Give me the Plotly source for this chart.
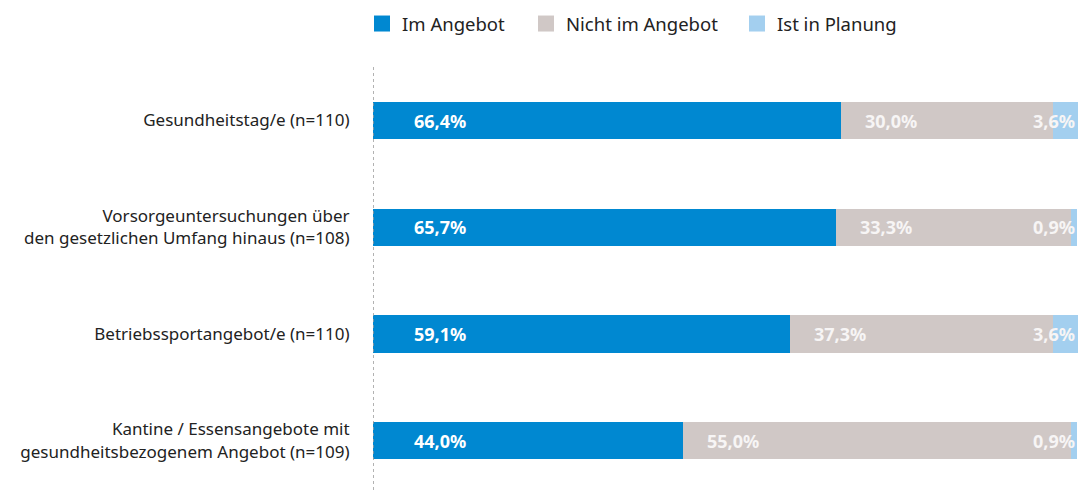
import plotly.graph_objects as go

categories = [
    "Gesundheitstag/e (n=110)",
    "Vorsorgeuntersuchungen über<br>den gesetzlichen Umfang hinaus (n=108)",
    "Betriebssportangebot/e (n=110)",
    "Kantine / Essensangebote mit<br>gesundheitsbezogenem Angebot (n=109)",
]
series_names = ["Im Angebot", "Nicht im Angebot", "Ist in Planung"]
im_angebot = [66.4, 65.7, 59.1, 44.0]
nicht_im_angebot = [30.0, 33.3, 37.3, 55.0]
in_planung = [3.6, 0.9, 3.6, 0.9]
colors = ["#0088d1", "#d0c8c6", "#a3cfef"]

FONT = "Noto Sans"
W, H = 1078, 490

fig = go.Figure()
legend_ids = ["legend", "legend2", "legend3"]
legend_px = [381, 545, 756]  # centres of legend squares
for name, vals, col, lid in zip(series_names, [im_angebot, nicht_im_angebot, in_planung], colors, legend_ids):
    fig.add_trace(go.Bar(
        y=categories, x=vals, name=name, orientation="h",
        marker=dict(color=col, line=dict(width=0)),
        width=0.35, showlegend=False, hoverinfo="x+name",
    ))
    fig.add_trace(go.Scatter(
        x=[None], y=[None], mode="markers", name=name, legend=lid,
        marker=dict(symbol="square", size=18, color=col),
    ))

def fmt(v):
    return f"{v:.1f}".replace(".", ",") + "%"

lab_font = dict(family=FONT, size=18, weight="bold")
annotations = []
for i, cat in enumerate(categories):
    annotations.append(dict(x=0, y=cat, xref="x", yref="y", text=fmt(im_angebot[i]),
                            showarrow=False, xanchor="left", xshift=39,
                            font=dict(**lab_font, color="white")))
    annotations.append(dict(x=im_angebot[i], y=cat, xref="x", yref="y", text=fmt(nicht_im_angebot[i]),
                            showarrow=False, xanchor="left", xshift=22,
                            font=dict(**lab_font, color="#f7f5f5")))
    annotations.append(dict(x=1, y=cat, xref="paper", yref="y", text=fmt(in_planung[i]),
                            showarrow=False, xanchor="right", xshift=-1,
                            font=dict(**lab_font, color="#f7f5f5")))

leg_common = dict(orientation="h", xanchor="left", yanchor="middle",
                  xref="container", yref="container",
                  y=1 - 24 / H, font=dict(family=FONT, size=18.5, color="#222222"),
                  bgcolor="rgba(0,0,0,0)", borderwidth=0)
legends = {}
for lid, px in zip(legend_ids, legend_px):
    legends[lid] = dict(leg_common, x=(px - 19) / W)

fig.update_layout(
    barmode="stack",
    width=W, height=H,
    margin=dict(l=373, r=0, t=67, b=0),
    paper_bgcolor="white", plot_bgcolor="white",
    font=dict(family=FONT, size=17, color="#222222"),
    xaxis=dict(range=[0, 100], visible=False, fixedrange=True),
    yaxis=dict(categoryorder="array", categoryarray=categories,
               range=[3.464, -0.502],
               showgrid=False, zeroline=False, showline=False, automargin=False,
               ticks="outside", ticklen=19, tickcolor="rgba(0,0,0,0)",
               tickfont=dict(family=FONT, size=17, color="#222222")),
    annotations=annotations,
    shapes=[dict(type="line", xref="x", yref="paper", x0=0, x1=0, y0=0, y1=1.005,
                 line=dict(color="#999999", width=1.5, dash="dot"))],
    **legends,
)

fig.write_html(
    "out.html",
    config={"displayModeBar": False},
    post_script="document.body.style.margin='0';document.body.style.overflow='hidden';",
)
